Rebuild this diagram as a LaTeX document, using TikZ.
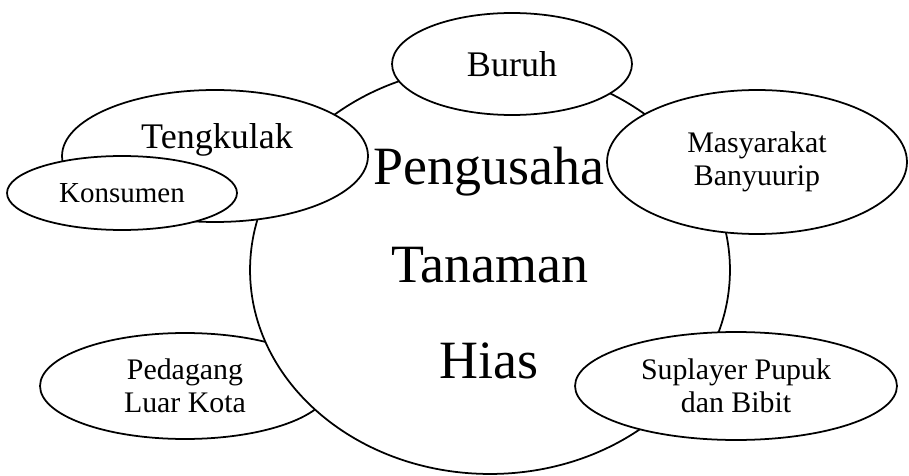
\documentclass[tikz,border=0pt]{standalone}
\usepackage{fontspec}
\setmainfont{Liberation Serif}
\usetikzlibrary{shapes.geometric}
\tikzset{
  bubble/.style={draw, ellipse, fill=white, line width=1pt, inner sep=0pt, align=center},
  small/.style={font=\fontsize{17}{19}\selectfont},
  medium/.style={font=\fontsize{20.5}{23}\selectfont},
  big/.style={font=\fontsize{30.7}{34}\selectfont}
}
\begin{document}
\begin{tikzpicture}[x=0.02cm,y=-0.02cm]
  \useasboundingbox (0,0) rectangle (909,476);
  \node[bubble, small, minimum width=5.8cm, minimum height=2.12cm] (pedagang) at (185,386) {Pedagang\\Luar Kota};
  \node[bubble, minimum width=9.6cm, minimum height=8.16cm] (pengusaha) at (490,270) {};
  \node[bubble, medium, minimum width=4.8cm, minimum height=2.04cm] (buruh) at (512,64) {Buruh};
  \node[bubble, small, minimum width=6cm, minimum height=2.88cm] (masyarakat) at (757,162) {Masyarakat\\Banyuurip};
  \node[bubble, minimum width=6.12cm, minimum height=2.64cm] (tengkulak) at (215,156) {};
  \node[medium] (tengkulaktxt) at (217,140) {Tengkulak};
  \node[bubble, small, font=\fontsize{16.5}{19}\selectfont, minimum width=4.6cm, minimum height=1.48cm] (konsumen) at (122,193) {Konsumen};
  \node[bubble, small, minimum width=6.44cm, minimum height=2.16cm] (suplayer) at (736,386) {Suplayer Pupuk\\dan Bibit};
  % judul di tengah lingkaran
  \node[big, anchor=base] (judul1) at (489,185) {Pengusaha};
  \node[big, anchor=base] (judul2) at (490,282) {Tanaman};
  \node[big, anchor=base] (judul3) at (489,378) {Hias};
\end{tikzpicture}
\end{document}
